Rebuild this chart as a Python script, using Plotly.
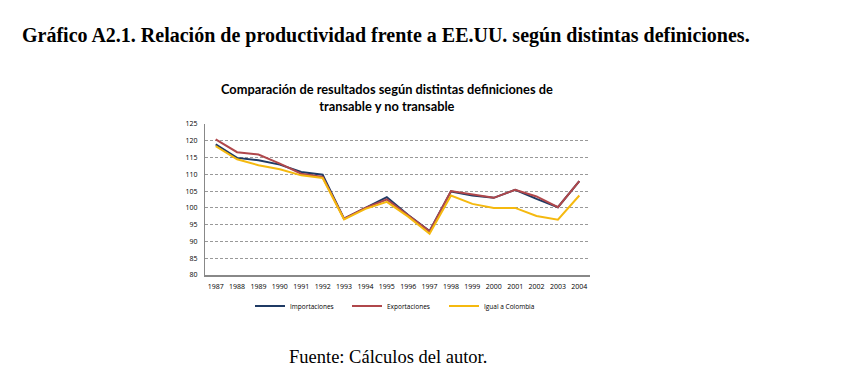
import plotly.graph_objects as go

years = [str(y) for y in range(1987, 2005)]
importaciones = [118.9, 114.9, 114.2, 112.9, 110.7, 109.9, 96.8, 100.0, 103.2, 97.9, 93.1,
                 104.9, 103.7, 103.0, 105.4, 102.7, 100.2, 108.0]
exportaciones = [120.4, 116.6, 115.9, 113.2, 110.2, 109.2, 96.8, 100.0, 102.5, 97.8, 93.0,
                 105.0, 104.0, 103.0, 105.4, 103.4, 100.2, 108.0]
igual_colombia = [118.4, 114.5, 112.7, 111.5, 109.7, 108.9, 96.6, 99.7, 101.8, 97.4, 92.3,
                  103.7, 101.2, 100.0, 100.0, 97.6, 96.5, 103.7]
y_ticks = list(range(80, 126, 5))

series = [
    ("Importaciones", importaciones, "#1F3A64"),
    ("Exportaciones", exportaciones, "#B0474B"),
    ("Igual a Colombia", igual_colombia, "#F5B90F"),
]

OFF = 8  # page body margin
L, R, T, B = 205 - OFF, 590 - OFF, 124 - OFF, 275 - OFF
PW, PH = R - L, B - T


def px_x(x):
    return (x - OFF - L) / PW


def px_y(y):
    return (B - (y - OFF)) / PH


fig = go.Figure()
for name, vals, col in series:
    fig.add_trace(go.Scatter(x=years, y=vals, name=name, mode="lines",
                             line=dict(color=col, width=2)))

fig.update_layout(
    width=862, height=383,
    paper_bgcolor="white", plot_bgcolor="white",
    margin=dict(l=L, r=862 - R, t=T, b=383 - B, autoexpand=False),
    font=dict(family="Open Sans, Lato, sans-serif", size=7, color="#000"),
    showlegend=True,
    legend=dict(orientation="h", x=px_x(250), xanchor="left",
                y=px_y(306), yanchor="middle",
                font=dict(size=6.5), entrywidth=52, entrywidthmode="pixels",
                tracegroupgap=0, bgcolor="rgba(0,0,0,0)"),
    xaxis=dict(type="category", range=[-0.5, 17.5], showgrid=False, showline=True,
               linecolor="#888", linewidth=2, ticks="", tickfont=dict(size=7),
               ticklabelstandoff=4, automargin=False),
    yaxis=dict(range=[80, 125], tickvals=y_ticks, showgrid=True, gridcolor="#999",
               griddash="3px,2px", gridwidth=1, showline=True, linecolor="#888", linewidth=1,
               ticks="", tickfont=dict(size=7), ticklabelstandoff=5,
               zeroline=False, automargin=False),
)

fig.add_annotation(text="<b>Gráfico A2.1. Relación de productividad frente a EE.UU. según distintas definiciones.</b>",
                   xref="paper", yref="paper", x=px_x(20), y=px_y(35),
                   xanchor="left", yanchor="middle", showarrow=False,
                   font=dict(family="Liberation Serif, Times New Roman, serif", size=20, color="#000"))
fig.add_annotation(text="<b>Comparación de resultados según distintas definiciones de<br>transable y no transable</b>",
                   xref="paper", yref="paper", x=px_x(387), y=px_y(97),
                   xanchor="center", yanchor="middle", showarrow=False,
                   font=dict(family="Lato, Open Sans, sans-serif", size=12.8, color="#000"))
fig.add_annotation(text="Fuente: Cálculos del autor.",
                   xref="paper", yref="paper", x=px_x(388), y=px_y(357),
                   xanchor="center", yanchor="middle", showarrow=False,
                   font=dict(family="Liberation Serif, Times New Roman, serif", size=18.5, color="#000"))

fig.write_html("out.html")
